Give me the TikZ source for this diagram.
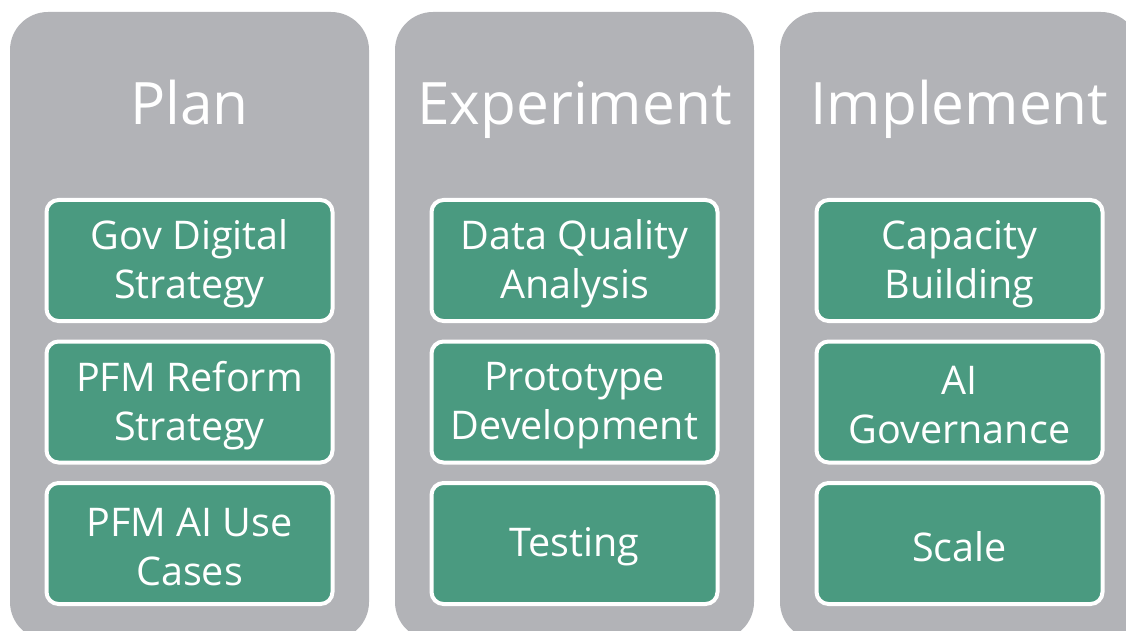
\documentclass[tikz,border=0pt]{standalone}
\usepackage{fontspec}
\setmainfont{Open Sans}
\usetikzlibrary{positioning}
\definecolor{colgray}{HTML}{B2B3B7}
\definecolor{taskgreen}{HTML}{4A9A80}

\tikzset{
  column/.style={fill=colgray, rounded corners=38pt, minimum width=359pt,
                 minimum height=628pt, anchor=north, outer sep=0pt, inner sep=0pt},
  phase/.style={text=white, font=\fontsize{58.5}{70}\selectfont, anchor=base},
  task/.style={fill=taskgreen, draw=white, line width=4pt, rounded corners=12pt,
               minimum width=286pt, minimum height=121pt, inner sep=0pt,
               text=white, align=center, font=\fontsize{39.5}{49}\selectfont,
               % push the text a little below the middle of the box
               execute at begin node={\vbox\bgroup\vskip7pt\hbox\bgroup},
               execute at end node={\egroup\egroup}},
}

\begin{document}
\begin{tikzpicture}[x=1pt, y=1pt, node distance=16.5pt]
            \clip (0,0) rectangle (1126,630);

            % the three phase columns
            \node[column] (plan)  at (189.5,618) {};
            \node[column] (exper) at (574.5,618) {};
            \node[column] (impl)  at (959.5,618) {};

            \node[phase] (plan-t)  at ([yshift=-113pt]plan.north)  {Plan};
            \node[phase] (exper-t) at ([yshift=-113pt]exper.north) {Experiment};
            \node[phase] (impl-t)  at ([yshift=-113pt]impl.north)  {Implement};

            % Plan
            \node[task, below=186pt of plan.north] (p1) {Gov Digital\\Strategy};
            \node[task, below=of p1] (p2) {PFM Reform\\Strategy};
            \node[task, below=of p2] (p3) {PFM AI Use\\Cases};

            % Experiment
            \node[task, below=186pt of exper.north] (e1) {Data Quality\\Analysis};
            \node[task, below=of e1] (e2) {Prototype\\Development};
            \node[task, below=of e2] (e3) {Testing};

            % Implement
            \node[task, below=186pt of impl.north] (i1) {Capacity\\Building};
            \node[task, below=of i1] (i2) {AI\\Governance};
            \node[task, below=of i2] (i3) {Scale};
\end{tikzpicture}
\end{document}
